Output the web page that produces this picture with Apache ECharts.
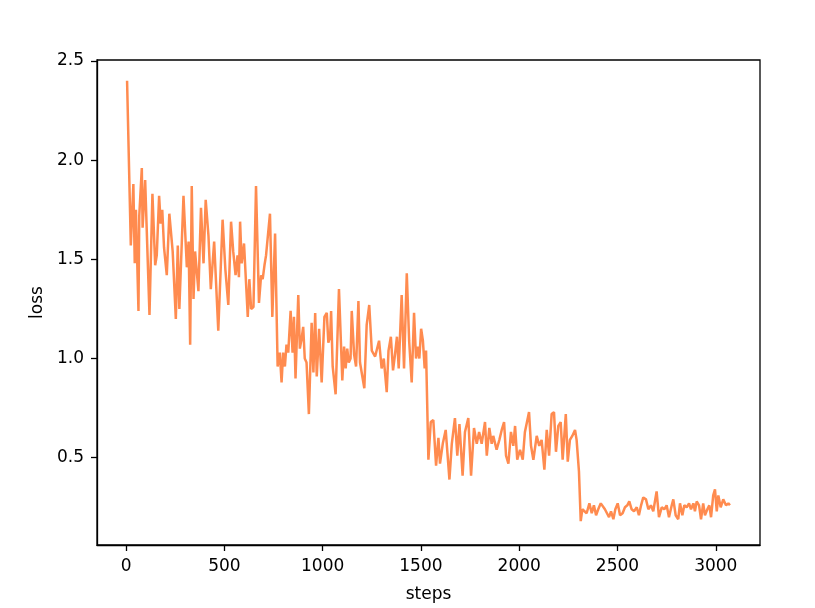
<!DOCTYPE html>
<html>
<head>
<meta charset="utf-8">
<script src="https://cdn.jsdelivr.net/npm/echarts@6/dist/echarts.min.js"></script>
<style>html,body{margin:0;padding:0;background:#fff}#c{width:815px;height:608px}</style>
</head>
<body>
<div id="c"></div>
<script>
const steps = [5,24,37,44,50,63,67,80,84,97,104,119,134,148,156,168,176,184,193,207,220,237,253,263,271,292,309,318,326,334,343,351,368,381,394,405,419,431,448,469,491,505,520,534,545,557,567,574,580,588,600,610,619,627,636,648,661,676,687,695,704,712,732,744,758,
771,782,791,799,808,816,825,837,847,854,862,876,884,893,901,909,918,930,944,953,962,970,982,995,1009,1021,1029,1038,1043,1051,1066,1083,1100,1109,1117,1125,1133,1142,1148,1160,1170,1182,1190,1199,1212,1224,1237,1250,1267,1277,1287,1300,1311,1326,1335,1347,1358,1368,1378,1387,1402,1414,1428,1440,1453,1465,1475,1484,1492,1501,1510,1519,1526,1529,
1538,1550,1563,1577,1589,1597,1611,1626,1645,1657,1673,1685,1696,1712,1724,1741,1755,1770,1784,1796,1809,1826,1835,1848,1860,1868,1885,1899,1911,1923,1933,1945,1958,1970,1979,1990,2004,2018,2029,2038,2050,2060,2072,2089,2102,2114,2128,2140,2152,2165,2177,2187,2199,2211,2221,2237,2247,2258,2270,2284,2292,2304,
2313,2321,2331,2343,2357,2369,2380,2391,2402,2415,2425,2436,2445,2457,2467,2479,2489,2501,2513,2526,2538,2550,2560,2572,2584,2598,2609,2620,2631,2645,2657,2670,2682,2699,2711,2725,2738,2750,2762,2776,2784,2796,2809,2818,2830,2840,2852,2864,2874,2886,2894,2903,2915,2925,2936,2945,2957,2967,2976,2987,2996,3005,3013,3025,3038,3052,3064,3072];
const loss = [2.40,1.57,1.88,1.48,1.75,1.24,1.72,1.96,1.66,1.90,1.68,1.22,1.83,1.47,1.52,1.82,1.68,1.75,1.56,1.42,1.73,1.54,1.20,1.57,1.25,1.82,1.46,1.59,1.07,1.87,1.30,1.54,1.34,1.76,1.48,1.80,1.62,1.35,1.59,1.14,1.70,1.45,1.27,1.69,1.54,1.42,1.52,1.41,1.69,1.48,1.58,1.57,1.21,1.40,1.25,1.26,1.87,1.28,1.42,1.40,1.47,1.52,1.73,1.21,1.63,
0.96,1.03,0.88,1.03,0.96,1.07,1.03,1.24,1.03,1.21,0.90,1.32,1.05,1.10,1.16,1.00,0.98,0.72,1.18,0.93,1.23,0.91,1.15,0.88,1.21,1.23,1.08,1.11,1.24,0.96,0.82,1.35,0.89,1.06,0.95,1.05,0.98,1.00,1.24,1.02,0.96,1.29,0.98,0.99,0.85,1.17,1.27,1.04,1.01,1.02,1.09,0.95,1.00,0.83,1.04,1.11,0.94,1.02,1.11,0.95,1.32,0.95,1.43,1.09,0.88,1.23,1.00,1.06,1.00,1.15,1.09,0.95,1.04,1.03,
0.49,0.68,0.69,0.46,0.60,0.47,0.57,0.64,0.39,0.57,0.70,0.51,0.67,0.41,0.63,0.70,0.41,0.65,0.57,0.63,0.57,0.68,0.51,0.65,0.57,0.61,0.54,0.59,0.64,0.68,0.51,0.47,0.63,0.56,0.66,0.49,0.54,0.49,0.63,0.64,0.73,0.56,0.49,0.61,0.56,0.59,0.44,0.64,0.51,0.72,0.73,0.53,0.66,0.68,0.49,0.72,0.48,0.59,0.61,0.64,0.59,0.43,
0.18,0.24,0.23,0.22,0.27,0.22,0.26,0.21,0.24,0.27,0.28,0.24,0.25,0.20,0.23,0.19,0.24,0.27,0.21,0.22,0.25,0.26,0.28,0.24,0.23,0.25,0.21,0.26,0.30,0.29,0.24,0.26,0.23,0.33,0.20,0.25,0.24,0.26,0.20,0.26,0.29,0.21,0.19,0.27,0.21,0.26,0.25,0.27,0.24,0.27,0.23,0.28,0.26,0.19,0.27,0.21,0.24,0.26,0.20,0.31,0.34,0.23,0.31,0.25,0.29,0.26,0.27,0.26];
const xTicks = [0,500,1000,1500,2000,2500,3000];
const yTicks = [0.5,1.0,1.5,2.0,2.5];

const data = steps.map((s,i)=>[s,loss[i]]);
const font = 'DejaVu Sans';
const chart = echarts.init(document.getElementById('c'), null, {renderer:'canvas'});
chart.setOption({
  animation:false,
  backgroundColor:'#fff',
  grid:{left:97,right:55,top:60,bottom:58,show:true,borderColor:'#000',borderWidth:1.3,backgroundColor:'transparent'},
  xAxis:{type:'value',min:-148,max:3225,
    name:'steps',nameLocation:'middle',nameGap:41,
    nameTextStyle:{fontFamily:font,fontSize:17,color:'#000'},
    axisLine:{show:true,onZero:false,lineStyle:{color:'#000',width:1.3}},
    axisTick:{show:true,length:6,lineStyle:{color:'#000',width:1.3},customValues:xTicks},
    axisLabel:{fontFamily:font,fontSize:17,color:'#000',margin:13,customValues:xTicks,formatter:v=>String(v)},
    splitLine:{show:false}},
  yAxis:{type:'value',min:0.06,max:2.505,
    name:'loss',nameLocation:'middle',nameGap:50,
    nameTextStyle:{fontFamily:font,fontSize:17,color:'#000'},
    axisLine:{show:true,onZero:false,lineStyle:{color:'#000',width:1.3}},
    axisTick:{show:true,length:6,lineStyle:{color:'#000',width:1.3},customValues:yTicks},
    axisLabel:{fontFamily:font,fontSize:17,color:'#000',margin:13,customValues:yTicks,formatter:v=>v.toFixed(1)},
    splitLine:{show:false}},
  series:[{type:'line',data:data,showSymbol:false,symbol:'none',
    lineStyle:{color:'#ff8b4f',width:2.5},itemStyle:{color:'#ff8b4f'}}]
});
</script>
</body>
</html>
